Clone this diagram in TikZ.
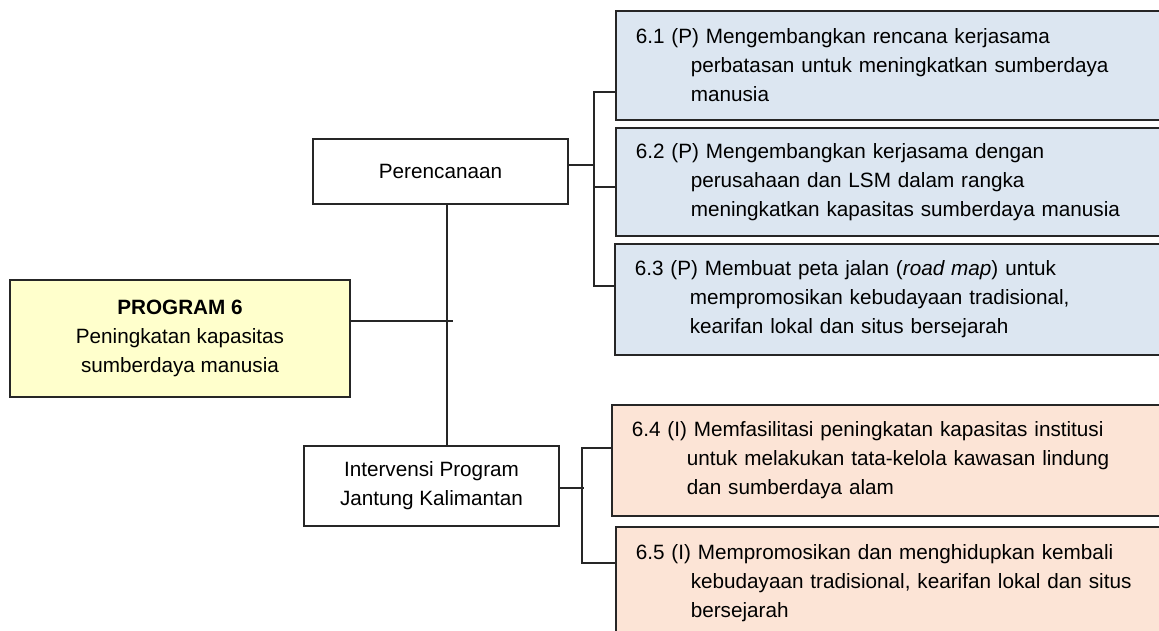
\documentclass[tikz,border=0pt]{standalone}
\usepackage{fontspec}
\setmainfont{Liberation Sans}
\definecolor{progfill}{HTML}{FFFFCC}
\definecolor{planfill}{HTML}{DCE6F1}
\definecolor{intfill}{HTML}{FCE4D6}
\definecolor{edge}{HTML}{262626}
\tikzset{
  txt/.style={font=\fontsize{20.7}{29}\selectfont},
  box/.style={txt, draw=edge, line width=1.6pt, rectangle, inner sep=0pt},
  leaf/.style={box, anchor=north west, text width=580pt, inner xsep=20pt, align=left},
  conn/.style={draw=edge, line width=1.6pt}
}
\newcommand{\ind}{\hspace*{55pt}}
\begin{document}
\begin{tikzpicture}[x=1pt, y=-1pt]
\path[use as bounding box, fill=white] (0,0) rectangle (1159,631);

% main nodes
\node[box, fill=progfill, minimum width=340pt, minimum height=117pt, align=center] (prog) at (180,338.5)
  {\textbf{PROGRAM 6}\\Peningkatan kapasitas\\sumberdaya manusia};
\node[box, fill=white, minimum width=255pt, minimum height=65pt] (per) at (440.5,171.5) {Perencanaan};
\node[box, fill=white, minimum width=255pt, minimum height=80pt, align=center] (int) at (431.5,486)
  {Intervensi Program\\Jantung Kalimantan};

% leaves
\node[leaf, fill=planfill, minimum height=109pt] (l61) at (615,10)
  {6.1 (P) Mengembangkan rencana kerjasama\\\ind perbatasan untuk meningkatkan sumberdaya\\\ind manusia};
\node[leaf, fill=planfill, minimum height=108pt] (l62) at (615,127)
  {6.2 (P) Mengembangkan kerjasama dengan\\\ind perusahaan dan LSM dalam rangka\\\ind meningkatkan kapasitas sumberdaya manusia};
\node[leaf, fill=planfill, minimum height=111pt] (l63) at (614,243)
  {6.3 (P) Membuat peta jalan (\textit{road map}) untuk\\\ind mempromosikan kebudayaan tradisional,\\\ind kearifan lokal dan situs bersejarah};
\node[leaf, fill=intfill, minimum height=111pt] (l64) at (611,404)
  {6.4 (I) Memfasilitasi peningkatan kapasitas institusi\\\ind untuk melakukan tata-kelola kawasan lindung\\\ind dan sumberdaya alam};
\node[leaf, fill=intfill, minimum height=112pt, anchor=north west] (l65) at (615,526)
  {6.5 (I) Mempromosikan dan menghidupkan kembali\\\ind kebudayaan tradisional, kearifan lokal dan situs\\\ind bersejarah};

% junction coordinates
\coordinate (s1) at (447,321);
\coordinate (s1end) at (453,321);
\coordinate (pj) at (594,165);
\coordinate (b1) at (594,92);
\coordinate (b2) at (594,187);
\coordinate (b3) at (594,286);
\coordinate (ij) at (584,488);
\coordinate (b4) at (582,448);
\coordinate (b5) at (582,563);

% connectors
\draw[conn] (s1 |- per.south) -- (s1 |- int.north);
\draw[conn] (prog.east |- s1) -- (s1end);

\draw[conn] (per.east |- pj) -- (pj);
\draw[conn] (b1 -| l61.west) -- (b1) -- (b3) -- (b3 -| l63.west);
\draw[conn] (b2) -- (b2 -| l62.west);

\draw[conn] (int.east |- ij) -- (ij);
\draw[conn] (b4 -| l64.west) -- (b4) -- (b5) -- (b5 -| l65.west);
\end{tikzpicture}
\end{document}
